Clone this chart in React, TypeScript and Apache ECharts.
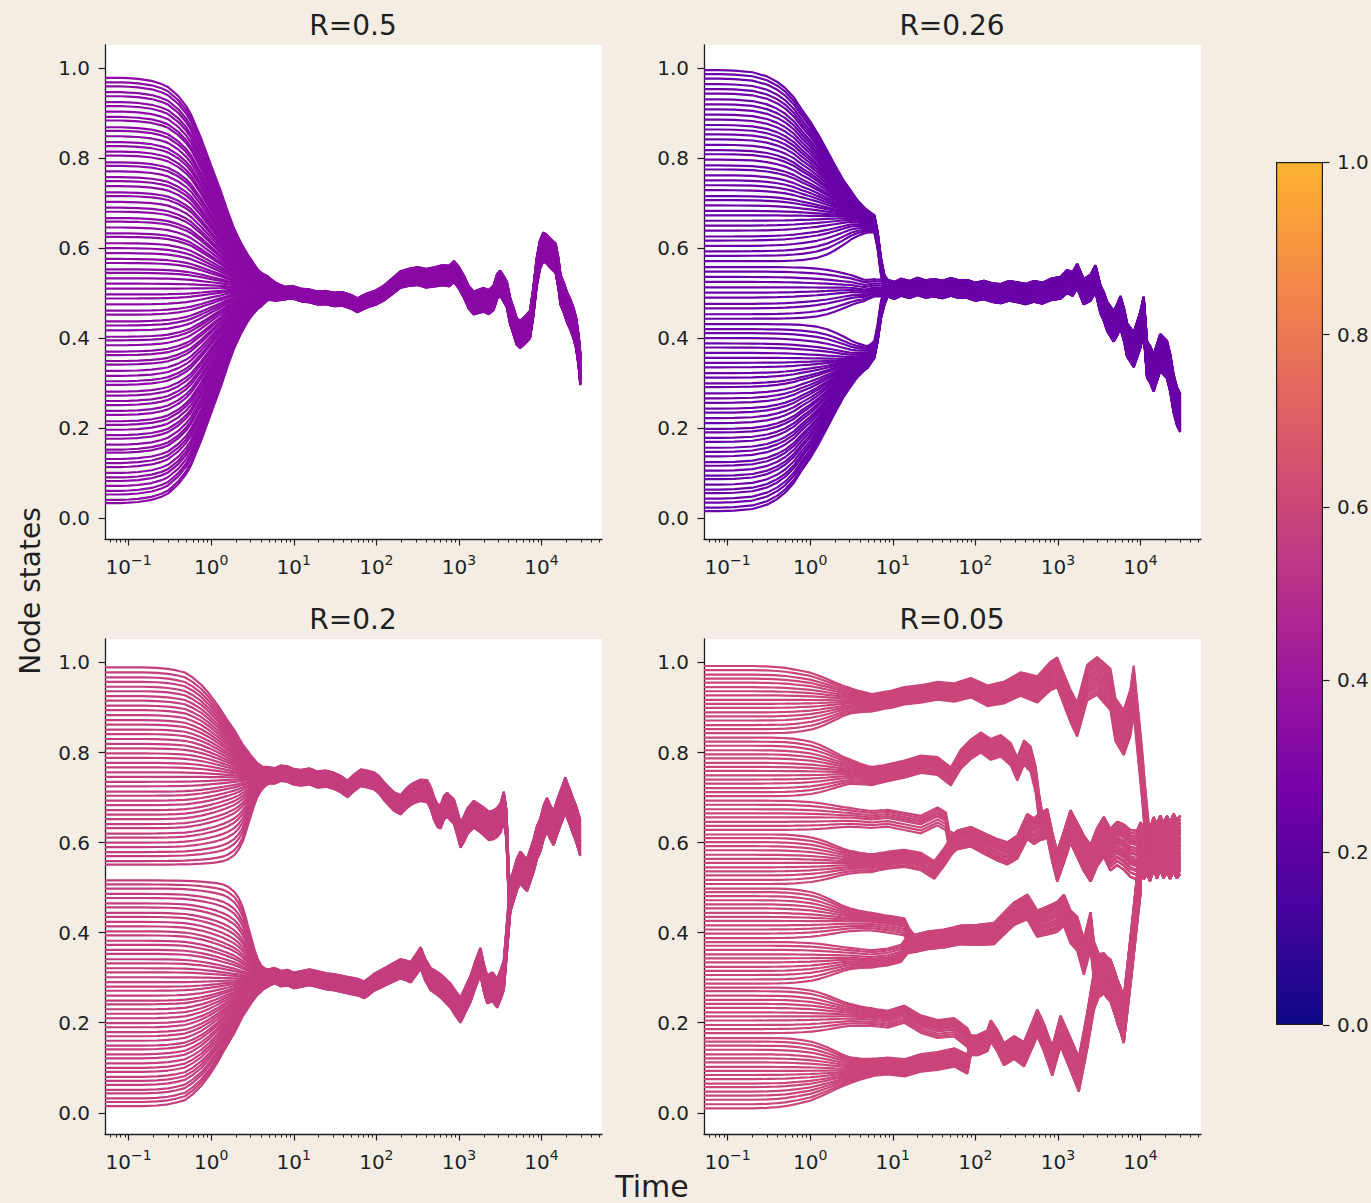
import React, { useEffect, useRef } from "react";
import * as echarts from "echarts";

type Pt = [number, number];

const FONT = '"DejaVu Sans", "Liberation Sans", sans-serif';
const INK = "#1f1f1f";
const PAGE_BG = "#f3ede4";

// ---- shared axes -------------------------------------------------------
const timeMin = 0.0518;
const timeMax = 53950;
const majorTimeExponents = [-1, 0, 1, 2, 3, 4];
const minorTimes = [
  0.06, 0.07, 0.08, 0.09,
  0.2, 0.3, 0.4, 0.5, 0.6, 0.7, 0.8, 0.9,
  2, 3, 4, 5, 6, 7, 8, 9,
  20, 30, 40, 50, 60, 70, 80, 90,
  200, 300, 400, 500, 600, 700, 800, 900,
  2000, 3000, 4000, 5000, 6000, 7000, 8000, 9000,
  20000, 30000, 40000, 50000,
];
const stateMin = -0.047;
const stateMax = 1.052;
const stateTicks = [0, 0.2, 0.4, 0.6, 0.8, 1.0];

const panelTitles = ["R=0.5", "R=0.26", "R=0.2", "R=0.05"];
const panelColors = ["#8b0aa5", "#6a00a8", "#c43e7f", "#ca457a"];

// ---- R = 0.5 : one consensus group --------------------------------------
const r05Starts = [
  0.033, 0.04, 0.052, 0.06, 0.071, 0.082, 0.09, 0.1, 0.113, 0.122, 0.131, 0.145, 0.152, 0.163,
  0.176, 0.184, 0.196, 0.207, 0.215, 0.229, 0.238, 0.251, 0.26, 0.272, 0.281, 0.296, 0.304, 0.316,
  0.327, 0.341, 0.349, 0.362, 0.37, 0.384, 0.395, 0.403, 0.417, 0.428, 0.437, 0.452, 0.461, 0.475,
  0.488, 0.497, 0.51, 0.521, 0.533, 0.545, 0.553, 0.567, 0.576, 0.589, 0.6, 0.611, 0.625, 0.633,
  0.646, 0.659, 0.667, 0.681, 0.69, 0.703, 0.716, 0.724, 0.738, 0.749, 0.758, 0.771, 0.783, 0.791,
  0.806, 0.815, 0.827, 0.836, 0.849, 0.861, 0.869, 0.884, 0.892, 0.904, 0.916, 0.925, 0.938, 0.947,
  0.96, 0.969, 0.979,
];
const r05Cuts: number[] = [];
const r05Track: Pt[] = [
  [3.04, 0.512], [3.9, 0.508], [4.84, 0.511], [6.1, 0.503], [7.7, 0.5], [9.6, 0.502], [12.2, 0.496],
  [15.3, 0.494], [19.5, 0.489], [24.5, 0.49], [30.8, 0.486], [38.6, 0.487], [49, 0.481], [59, 0.473],
  [68, 0.479], [78, 0.484], [98, 0.49], [123, 0.5], [155, 0.515], [195, 0.53], [245, 0.535],
  [316, 0.538], [400, 0.533], [501, 0.536], [630, 0.54], [760, 0.538], [871, 0.548], [1000, 0.534],
  [1150, 0.514], [1320, 0.49], [1510, 0.478], [1740, 0.482], [2000, 0.485], [2290, 0.48],
  [2630, 0.49], [2900, 0.515], [3160, 0.522], [3460, 0.51], [3800, 0.497], [4170, 0.46],
  [4570, 0.438], [5000, 0.415], [5500, 0.408], [6300, 0.418], [7240, 0.43], [7950, 0.48],
  [8710, 0.545], [9550, 0.585], [10500, 0.603], [11500, 0.598], [12900, 0.588], [14800, 0.578],
  [16000, 0.545], [17000, 0.507], [18600, 0.49], [20400, 0.468], [22400, 0.452], [24500, 0.432],
  [26300, 0.41], [28200, 0.37], [29500, 0.33],
];
const r05Tracks: Pt[][] = [r05Track];
const r05Joins = [-1];
const r05Fade: Pt[] = [
  [0.0518, 1], [0.08, 1], [0.1, 0.998], [0.13, 0.995], [0.19, 0.985], [0.25, 0.97], [0.3, 0.955],
  [0.4, 0.91], [0.5, 0.86], [0.57, 0.82], [0.76, 0.7], [1, 0.57], [1.32, 0.44], [1.6, 0.34],
  [1.9, 0.26], [2.3, 0.19], [2.8, 0.13], [3.3, 0.09], [3.7, 0.065], [4.4, 0.04], [5, 0.025],
  [6.5, 0.01], [8, 0],
];
const r05Spread: Pt[] = [[3, 0.013], [100, 0.016], [1000, 0.024], [5000, 0.03], [30000, 0.035]];

// ---- R = 0.26 : three groups, two of them collapse into the middle one ---
const r026Starts = [
  0.015, 0.023, 0.034, 0.043, 0.055, 0.063, 0.074, 0.086, 0.094, 0.105, 0.116, 0.124, 0.137, 0.147,
  0.156, 0.169, 0.178, 0.19, 0.198, 0.211, 0.222, 0.234, 0.243, 0.256, 0.266, 0.277, 0.291, 0.299,
  0.312, 0.322, 0.335, 0.345, 0.356, 0.367, 0.379, 0.388, 0.4, 0.411, 0.42, 0.431, 0.443, 0.453,
  0.466, 0.476, 0.49, 0.501, 0.513, 0.525, 0.536, 0.548, 0.558, 0.571, 0.583, 0.593, 0.605, 0.617,
  0.626, 0.639, 0.65, 0.661, 0.673, 0.683, 0.695, 0.707, 0.716, 0.729, 0.74, 0.751, 0.762, 0.775,
  0.784, 0.797, 0.809, 0.818, 0.83, 0.842, 0.853, 0.864, 0.874, 0.886, 0.897, 0.909, 0.92, 0.931,
  0.944, 0.954, 0.965, 0.977, 0.987, 0.996,
];
const r026Cuts = [0.436, 0.565];
const r026Low: Pt[] = [[3.13, 0.352], [4.97, 0.359], [5.98, 0.374], [6.55, 0.411], [7.2, 0.463], [7.9, 0.492]];
const r026Mid: Pt[] = [
  [3.13, 0.511], [4.5, 0.507], [6, 0.512], [8.67, 0.511], [10.5, 0.506], [12.6, 0.513], [16, 0.508],
  [20, 0.515], [25, 0.509], [31.7, 0.512], [40, 0.508], [50.5, 0.514], [63, 0.509], [80, 0.509],
  [100, 0.503], [127, 0.507], [160, 0.501], [203, 0.499], [255, 0.505], [322, 0.502], [405, 0.498],
  [512, 0.504], [650, 0.5], [815, 0.508], [1075, 0.512], [1290, 0.526], [1500, 0.52], [1710, 0.538],
  [2050, 0.503], [2480, 0.512], [2850, 0.532], [3270, 0.486], [3600, 0.47], [3940, 0.448],
  [4730, 0.426], [5200, 0.44], [5700, 0.458], [6300, 0.43], [6870, 0.396], [8260, 0.374],
  [9950, 0.418], [10900, 0.452], [12000, 0.352], [13200, 0.34], [14400, 0.322], [17300, 0.368],
  [20900, 0.352], [22900, 0.322], [25100, 0.277], [27600, 0.248], [30300, 0.233],
];
const r026High: Pt[] = [[3.13, 0.67], [4.97, 0.659], [5.98, 0.655], [6.55, 0.618], [7.2, 0.559], [7.9, 0.522]];
const r026Tracks: Pt[][] = [r026Low, r026Mid, r026High];
const r026Joins = [1, -1, 1];
const r026Fade: Pt[] = [
  [0.0518, 1], [0.08, 1], [0.12, 0.997], [0.2, 0.985], [0.3, 0.955], [0.4, 0.915], [0.5, 0.87],
  [0.64, 0.8], [0.78, 0.72], [1, 0.63], [1.24, 0.54], [1.6, 0.42], [1.97, 0.32], [2.5, 0.21],
  [3.1, 0.13], [3.7, 0.075], [4.5, 0.035], [5.2, 0.015], [6, 0],
];
const r026Hold: Pt[] = [
  [0.0518, 1], [0.5, 1], [0.8, 0.985], [1.2, 0.93], [1.6, 0.84], [2, 0.72], [2.5, 0.58], [3, 0.45],
  [3.6, 0.31], [4.2, 0.2], [4.8, 0.11], [5.5, 0.05], [6.2, 0.02], [7, 0],
];
const r026Spread: Pt[] = [[3, 0.018], [100, 0.02], [1000, 0.024], [3000, 0.03], [10000, 0.04], [30000, 0.042]];

// ---- R = 0.2 : two groups that meet late ----------------------------------
const r02Starts = [
  0.015, 0.024, 0.032, 0.043, 0.051, 0.062, 0.071, 0.08, 0.091, 0.1, 0.11, 0.121, 0.13, 0.141,
  0.149, 0.16, 0.17, 0.179, 0.19, 0.199, 0.21, 0.22, 0.23, 0.241, 0.249, 0.26, 0.271, 0.28, 0.29,
  0.301, 0.312, 0.321, 0.332, 0.341, 0.353, 0.362, 0.373, 0.382, 0.394, 0.403, 0.414, 0.424, 0.435,
  0.444, 0.456, 0.465, 0.477, 0.486, 0.498, 0.507, 0.516, 0.551, 0.559, 0.57, 0.579, 0.59, 0.6,
  0.611, 0.62, 0.632, 0.641, 0.652, 0.662, 0.672, 0.683, 0.693, 0.704, 0.713, 0.725, 0.735, 0.746,
  0.756, 0.767, 0.777, 0.788, 0.798, 0.809, 0.819, 0.83, 0.841, 0.851, 0.862, 0.872, 0.883, 0.894,
  0.904, 0.915, 0.925, 0.936, 0.946, 0.957, 0.967, 0.978, 0.989,
];
const r02Cuts = [0.535];
const r02Low: Pt[] = [
  [4.02, 0.297], [4.9, 0.301], [5.82, 0.305], [7, 0.298], [8.43, 0.3], [10, 0.294], [12.2, 0.297],
  [15.5, 0.301], [19.4, 0.297], [24.5, 0.292], [30.9, 0.29], [39, 0.286], [49.1, 0.282], [60, 0.279],
  [71, 0.273], [82, 0.281], [94, 0.29], [115, 0.298], [136, 0.305], [165, 0.313], [197, 0.32],
  [230, 0.316], [260, 0.312], [300, 0.328], [344, 0.344], [390, 0.318], [454, 0.297], [520, 0.29],
  [600, 0.282], [690, 0.271], [792, 0.26], [910, 0.243], [1045, 0.228], [1200, 0.252], [1380, 0.275],
  [1600, 0.31], [1820, 0.336], [2000, 0.3], [2200, 0.274], [2540, 0.28], [2900, 0.266], [3200, 0.285],
  [3490, 0.305], [3830, 0.394], [4200, 0.483],
];
const r02High: Pt[] = [
  [4.02, 0.744], [4.9, 0.748], [5.82, 0.748], [7, 0.754], [8.43, 0.752], [10, 0.746], [12.2, 0.744],
  [15.5, 0.747], [19.4, 0.74], [24.5, 0.742], [30.9, 0.737], [37, 0.73], [44.8, 0.719], [54, 0.733],
  [64.8, 0.744], [78, 0.741], [94, 0.737], [108, 0.728], [124, 0.714], [143, 0.702], [164, 0.691],
  [197, 0.684], [228, 0.697], [260, 0.706], [300, 0.712], [344, 0.716], [414, 0.714], [460, 0.697],
  [499, 0.676], [550, 0.66], [600, 0.657], [660, 0.678], [722, 0.684], [790, 0.676], [868, 0.669],
  [950, 0.645], [1045, 0.617], [1150, 0.63], [1260, 0.647], [1380, 0.655], [1510, 0.663],
  [1750, 0.655], [2000, 0.647], [2300, 0.637], [2640, 0.64], [2900, 0.645], [3190, 0.655],
  [3490, 0.68], [3760, 0.64], [4010, 0.5],
];
const r02Merged: Pt[] = [
  [4200, 0.48], [4600, 0.505], [5050, 0.53], [5550, 0.545], [6100, 0.535], [6680, 0.528],
  [7350, 0.55], [8040, 0.572], [8800, 0.6], [9680, 0.617], [10600, 0.645], [11650, 0.662],
  [12800, 0.645], [14000, 0.632], [15400, 0.655], [16900, 0.676], [18100, 0.69], [19400, 0.706],
  [20800, 0.69], [22300, 0.676], [23900, 0.66], [25600, 0.647], [27400, 0.63], [29400, 0.61],
];
const r02Tracks: Pt[][] = [r02Low, r02High, r02Merged];
const r02Joins = [2, 2, -1];
const r02Fade: Pt[] = [
  [0.0518, 1], [0.15, 1], [0.22, 0.995], [0.3, 0.985], [0.38, 0.97], [0.48, 0.95], [0.6, 0.9],
  [0.76, 0.83], [0.95, 0.74], [1.2, 0.63], [1.5, 0.51], [1.9, 0.39], [2.4, 0.25], [3.04, 0.14],
  [3.6, 0.07], [4.2, 0.03], [5, 0.01], [6, 0],
];
const r02Hold: Pt[] = [
  [0.0518, 1], [1.1, 1], [1.4, 0.99], [1.6, 0.97], [1.9, 0.92], [2.15, 0.85], [2.4, 0.75],
  [2.6, 0.64], [2.8, 0.52], [3.05, 0.39], [3.3, 0.27], [3.6, 0.16], [4, 0.07], [4.5, 0.02], [5, 0],
];
const r02Spread: Pt[] = [[4, 0.017], [100, 0.019], [1000, 0.028], [4000, 0.034], [30000, 0.04]];

// ---- R = 0.05 : eight groups merging step by step --------------------------
const r005Starts = [
  0.01, 0.019, 0.029, 0.038, 0.047, 0.057, 0.065, 0.075, 0.084, 0.093, 0.102, 0.112, 0.121, 0.13,
  0.14, 0.149, 0.158, 0.166, 0.177, 0.186, 0.195, 0.205, 0.214, 0.223, 0.233, 0.242, 0.251, 0.26,
  0.27, 0.278, 0.287, 0.296, 0.306, 0.315, 0.324, 0.334, 0.343, 0.352, 0.362, 0.371, 0.379, 0.388,
  0.398, 0.407, 0.416, 0.426, 0.435, 0.444, 0.454, 0.463, 0.472, 0.481, 0.49, 0.498, 0.508, 0.517,
  0.527, 0.536, 0.545, 0.555, 0.564, 0.573, 0.583, 0.592, 0.601, 0.61, 0.618, 0.628, 0.637, 0.646,
  0.656, 0.665, 0.674, 0.684, 0.693, 0.703, 0.712, 0.721, 0.731, 0.74, 0.749, 0.759, 0.768, 0.777,
  0.787, 0.796, 0.805, 0.815, 0.824, 0.833, 0.843, 0.852, 0.861, 0.871, 0.88, 0.889, 0.899, 0.908,
  0.917, 0.927, 0.936, 0.945, 0.955, 0.964, 0.973, 0.983, 0.992,
];
const r005Cuts = [0.17, 0.28, 0.38, 0.5, 0.62, 0.7, 0.84];
const r005H: Pt[] = [[3, 0.095], [5.46, 0.1], [8.67, 0.104], [13.8, 0.1], [21.9, 0.111], [34.8, 0.115], [55.4, 0.123], [80, 0.108]];
const r005G: Pt[] = [[3, 0.215], [5.46, 0.212], [8.67, 0.208], [13.8, 0.219], [21.9, 0.197], [34.8, 0.186], [55.4, 0.19], [80, 0.167]];
const r005F: Pt[] = [[3, 0.345], [5.46, 0.342], [8.67, 0.346], [12.6, 0.354], [15.1, 0.373]];
const r005E: Pt[] = [[3, 0.425], [5.46, 0.424], [9.51, 0.418], [13.8, 0.413], [15.8, 0.39]];
const r005D: Pt[] = [[3, 0.555], [5.46, 0.554], [8.67, 0.561], [13.8, 0.565], [21.9, 0.558], [31.8, 0.539], [41.9, 0.568], [50.5, 0.591]];
const r005C: Pt[] = [[3, 0.655], [5.46, 0.651], [8.67, 0.654], [13.8, 0.647], [21.9, 0.64], [34.8, 0.658], [43.9, 0.647], [48.2, 0.606]];
const r005B: Pt[] = [
  [3, 0.755], [5.46, 0.747], [8.67, 0.755], [13.8, 0.763], [21.9, 0.774], [34.8, 0.77], [50.5, 0.747],
  [66.6, 0.785], [88.1, 0.807], [116, 0.822], [154, 0.807], [203, 0.815], [268, 0.796], [322, 0.763],
  [388, 0.8], [467, 0.785], [537, 0.74], [589, 0.681], [646, 0.636],
];
const r005A: Pt[] = [
  [3, 0.915], [5.46, 0.911], [9.51, 0.918], [13.8, 0.926], [21.9, 0.93], [34.8, 0.937], [55.4, 0.933],
  [88.1, 0.944], [140, 0.926], [222, 0.933], [353, 0.952], [562, 0.94], [815, 0.97], [980, 0.978],
  [1180, 0.94], [1420, 0.903], [1710, 0.873], [2260, 0.955], [2980, 0.97], [3590, 0.955], [4320, 0.94],
  [4960, 0.873], [6260, 0.844], [7530, 0.888], [8260, 0.94], [9060, 0.866], [10400, 0.755],
  [11400, 0.666], [12500, 0.59],
];
const r005GH: Pt[] = [
  [106, 0.15], [140, 0.16], [154, 0.182], [185, 0.16], [222, 0.13], [294, 0.145], [388, 0.13],
  [512, 0.182], [562, 0.2], [677, 0.167], [854, 0.115], [1075, 0.182], [1420, 0.13], [1790, 0.085],
  [2260, 0.182], [2720, 0.27], [3270, 0.31],
];
const r005EF: Pt[] = [
  [18.2, 0.376], [26.4, 0.383], [41.9, 0.387], [66.6, 0.395], [106, 0.395], [168, 0.398], [222, 0.42],
  [294, 0.442], [426, 0.457], [562, 0.42], [743, 0.427], [980, 0.435], [1180, 0.45], [1420, 0.413],
  [1710, 0.398], [2060, 0.346], [2480, 0.405], [2720, 0.339], [3270, 0.301],
];
const r005Centre: Pt[] = [
  [55.4, 0.6], [60.7, 0.606], [88.1, 0.613], [128, 0.598], [185, 0.584], [244, 0.576], [322, 0.59],
  [426, 0.636], [512, 0.625], [617, 0.636], [743, 0.643], [854, 0.59], [980, 0.547], [1180, 0.59],
  [1420, 0.636], [1710, 0.606], [2060, 0.576], [2480, 0.554], [2980, 0.59], [3590, 0.613],
  [4320, 0.584], [5200, 0.598], [6260, 0.59], [7530, 0.576], [9060, 0.572], [10000, 0.59],
  [11000, 0.575], [12000, 0.588], [13000, 0.572], [14400, 0.598], [15800, 0.58], [17300, 0.6],
  [19000, 0.582], [20900, 0.597], [22800, 0.582], [25100, 0.6], [27500, 0.585], [30300, 0.595],
];
const r005EFGH: Pt[] = [
  [3590, 0.31], [3940, 0.3], [4320, 0.294], [4960, 0.262], [5200, 0.249], [5700, 0.23], [6260, 0.205],
  [6870, 0.27], [7890, 0.368], [9060, 0.472], [9950, 0.539],
];
const r005Tracks: Pt[][] = [
  r005H, r005G, r005F, r005E, r005D, r005C, r005B, r005A, r005GH, r005EF, r005Centre, r005EFGH,
];
const r005Joins = [8, 8, 9, 9, 10, 10, 10, 10, 11, 11, -1, 10];
const r005Fade: Pt[] = [
  [0.0518, 1], [0.2, 1], [0.3, 0.985], [0.4, 0.96], [0.5, 0.93], [0.7, 0.85], [1, 0.75], [1.3, 0.62],
  [1.6, 0.51], [2, 0.38], [2.5, 0.26], [3.2, 0.15], [4, 0.08], [5, 0.03], [6, 0],
];
const r005Hold: Pt[] = [
  [0.0518, 1], [0.35, 1], [0.5, 0.99], [0.65, 0.96], [0.8, 0.92], [1.05, 0.85], [1.3, 0.75],
  [1.6, 0.62], [2, 0.46], [2.5, 0.3], [3, 0.2], [4, 0.1], [5, 0.05], [6.5, 0.02], [8, 0],
];
const r005Spread: Pt[] = [[3, 0.018], [50, 0.02], [300, 0.025], [1000, 0.033], [3000, 0.042], [10000, 0.055], [30000, 0.065]];

// ---- colour bar -------------------------------------------------------------
const colorbarStops: [number, string][] = [
  [0, "#0d0887"], [0.134, "#47039f"], [0.268, "#7301a8"], [0.401, "#9c179e"], [0.535, "#bd3786"],
  [0.669, "#d8576b"], [0.803, "#ed7953"], [0.937, "#fb9f3a"], [1, "#fcb431"],
];

// ---- layout -----------------------------------------------------------------
const panelBoxes = [
  { left: 105, top: 45, width: 497, height: 494 },
  { left: 704, top: 45, width: 497, height: 494 },
  { left: 105, top: 639, width: 497, height: 495 },
  { left: 704, top: 639, width: 497, height: 495 },
];
const colorbarBox = { left: 1276, top: 162, width: 47, height: 863 };

interface PanelData {
  starts: number[];
  cuts: number[];
  tracks: Pt[][];
  joins: number[];
  fade: Pt[];
  hold: Pt[];
  spread: Pt[];
}

const panelData: PanelData[] = [
  { starts: r05Starts, cuts: r05Cuts, tracks: r05Tracks, joins: r05Joins, fade: r05Fade, hold: r05Fade, spread: r05Spread },
  { starts: r026Starts, cuts: r026Cuts, tracks: r026Tracks, joins: r026Joins, fade: r026Fade, hold: r026Hold, spread: r026Spread },
  { starts: r02Starts, cuts: r02Cuts, tracks: r02Tracks, joins: r02Joins, fade: r02Fade, hold: r02Hold, spread: r02Spread },
  { starts: r005Starts, cuts: r005Cuts, tracks: r005Tracks, joins: r005Joins, fade: r005Fade, hold: r005Hold, spread: r005Spread },
];

// piecewise-linear lookup in log(time)
function lookup(pts: Pt[], t: number): number {
  const n = pts.length;
  if (t <= pts[0][0]) return pts[0][1];
  if (t >= pts[n - 1][0]) return pts[n - 1][1];
  const lt = Math.log10(t);
  for (let i = 1; i < n; i++) {
    if (t <= pts[i][0]) {
      const a = Math.log10(pts[i - 1][0]);
      const b = Math.log10(pts[i][0]);
      const r = b > a ? (lt - a) / (b - a) : 1;
      return pts[i - 1][1] + (pts[i][1] - pts[i - 1][1]) * r;
    }
  }
  return pts[n - 1][1];
}

// Each node relaxes from its start value onto its group's track, then follows
// the track (and whatever track that group merges into).
function nodeTrajectories(d: PanelData): Pt[][] {
  const { starts, cuts, tracks, joins, fade, hold, spread } = d;
  const groupOf = (v: number) => cuts.filter((c) => v > c).length;
  return starts.map((v0) => {
    const k = groupOf(v0);
    const chain = [k];
    while (joins[chain[chain.length - 1]] >= 0) chain.push(joins[chain[chain.length - 1]]);
    const finalTrack = tracks[chain[chain.length - 1]];
    const tEnd = finalTrack[finalTrack.length - 1][0];
    const tSet = new Set<number>([timeMin]);
    fade.forEach((p) => tSet.add(p[0]));
    hold.forEach((p) => tSet.add(p[0]));
    chain.forEach((i) => tracks[i].forEach((p) => tSet.add(p[0])));
    const times = Array.from(tSet)
      .filter((t) => t >= timeMin && t <= tEnd)
      .sort((a, b) => a - b);

    const c0 = tracks[k][0][1];
    const lo = k > 0 ? cuts[k - 1] : null;
    const hi = k < cuts.length ? cuts[k] : null;
    let w = 0;
    if (v0 >= c0 && hi !== null) w = (v0 - c0) / (hi - c0);
    if (v0 < c0 && lo !== null) w = (c0 - v0) / (c0 - lo);
    w = Math.min(1, Math.max(0, w));
    const members = starts.filter((s) => groupOf(s) === k);
    const top = Math.max(...members);
    const bottom = Math.min(...members);
    const off =
      v0 >= c0 ? (top > c0 ? (v0 - c0) / (top - c0) : 0) : c0 > bottom ? (v0 - c0) / (c0 - bottom) : 0;

    const centre = (t: number) => {
      for (const i of chain) {
        const tr = tracks[i];
        if (t <= tr[tr.length - 1][0]) return lookup(tr, t);
      }
      return lookup(finalTrack, t);
    };

    return times.map((t): Pt => {
      const c = centre(t);
      const f = (1 - w) * lookup(fade, t) + w * lookup(hold, t);
      const hw = lookup(spread, t);
      return [t, c + (v0 - c) * f + (1 - f) * off * hw];
    });
  });
}

const supText = (e: number) => (e < 0 ? "\u2212" + Math.abs(e) : String(e));

function buildOption() {
  const grids: any[] = [];
  const xAxes: any[] = [];
  const yAxes: any[] = [];
  const series: any[] = [];
  const lx = Math.log10(timeMin);
  const hx = Math.log10(timeMax);

  panelData.forEach((d, i) => {
    grids.push({
      ...panelBoxes[i],
      show: true,
      backgroundColor: "#ffffff",
      borderWidth: 0,
      containLabel: false,
      outerBoundsMode: "none",
    });
    // time axis used by the series
    xAxes.push({
      type: "log",
      logBase: 10,
      gridIndex: i,
      min: timeMin,
      max: timeMax,
      position: "bottom",
      axisLine: { show: true, onZero: false, lineStyle: { color: INK, width: 1.3 } },
      axisTick: { show: false },
      axisLabel: { show: false },
      splitLine: { show: false },
      minorTick: { show: false },
      minorSplitLine: { show: false },
    });
    // decade ticks and labels
    xAxes.push({
      type: "value",
      gridIndex: i,
      min: lx,
      max: hx,
      position: "bottom",
      axisLine: { show: false, onZero: false },
      axisTick: { show: true, customValues: majorTimeExponents, length: 6.5, lineStyle: { color: INK, width: 1.2 } },
      axisLabel: {
        show: true,
        customValues: majorTimeExponents,
        margin: 14,
        formatter: (v: number) => `{b|10}{s|${supText(Math.round(v))}}`,
        rich: {
          b: { fontSize: 20, fontFamily: FONT, color: INK, lineHeight: 24, verticalAlign: "bottom" },
          s: { fontSize: 14, fontFamily: FONT, color: INK, lineHeight: 14, verticalAlign: "top" },
        },
      },
      splitLine: { show: false },
    });
    // minor ticks between decades
    xAxes.push({
      type: "value",
      gridIndex: i,
      min: lx,
      max: hx,
      position: "bottom",
      axisLine: { show: false, onZero: false },
      axisTick: { show: true, customValues: minorTimes.map((t) => Math.log10(t)), length: 3.5, lineStyle: { color: INK, width: 1 } },
      axisLabel: { show: false },
      splitLine: { show: false },
    });
    yAxes.push({
      type: "value",
      gridIndex: i,
      min: stateMin,
      max: stateMax,
      position: "left",
      axisLine: { show: true, onZero: false, lineStyle: { color: INK, width: 1.3 } },
      axisTick: { show: true, customValues: stateTicks, length: 6.5, lineStyle: { color: INK, width: 1.2 } },
      axisLabel: {
        show: true,
        customValues: stateTicks,
        margin: 15,
        formatter: (v: number) => v.toFixed(1),
        fontSize: 20,
        fontFamily: FONT,
        color: INK,
      },
      splitLine: { show: false },
    });
    nodeTrajectories(d).forEach((path) => {
      series.push({
        type: "line",
        xAxisIndex: i * 3,
        yAxisIndex: i,
        data: path,
        showSymbol: false,
        symbol: "none",
        silent: true,
        lineStyle: { width: 2.2, color: panelColors[i] },
        emphasis: { disabled: true },
        z: 2,
      });
    });
  });

  // colour bar
  grids.push({ ...colorbarBox, show: false, containLabel: false, outerBoundsMode: "none" });
  xAxes.push({ type: "category", gridIndex: 4, data: [""], show: false });
  yAxes.push({
    type: "value",
    gridIndex: 4,
    min: 0,
    max: 1,
    interval: 0.2,
    position: "right",
    axisLine: { show: false },
    axisTick: { show: true, length: 6.5, lineStyle: { color: INK, width: 1.2 } },
    axisLabel: { margin: 14, fontSize: 20, fontFamily: FONT, color: INK, formatter: (v: number) => v.toFixed(1) },
    splitLine: { show: false },
  });
  series.push({
    type: "bar",
    xAxisIndex: 12,
    yAxisIndex: 4,
    data: [1],
    barWidth: "100%",
    silent: true,
    itemStyle: {
      color: new echarts.graphic.LinearGradient(
        0, 1, 0, 0,
        colorbarStops.map(([offset, color]) => ({ offset, color }))
      ),
      borderColor: INK,
      borderWidth: 1.2,
    },
  });

  const titleText = (text: string, x: number, y: number) => ({
    type: "text",
    x,
    y,
    silent: true,
    style: { text, fill: INK, fontSize: 28, fontFamily: FONT, align: "center", verticalAlign: "middle" },
  });

  return {
    animation: false,
    backgroundColor: PAGE_BG,
    textStyle: { fontFamily: FONT },
    grid: grids,
    xAxis: xAxes,
    yAxis: yAxes,
    series,
    graphic: [
      titleText(panelTitles[0], 353, 25),
      titleText(panelTitles[1], 952, 25),
      titleText(panelTitles[2], 353, 619),
      titleText(panelTitles[3], 952, 619),
      {
        type: "text",
        x: 30,
        y: 591,
        rotation: Math.PI / 2,
        silent: true,
        style: { text: "Node states", fill: INK, fontSize: 28, fontFamily: FONT, align: "center", verticalAlign: "middle" },
      },
      {
        type: "text",
        x: 652,
        y: 1186,
        silent: true,
        style: { text: "Time", fill: INK, fontSize: 30, fontFamily: FONT, align: "center", verticalAlign: "middle" },
      },
    ],
  };
}

export default function App() {
  const ref = useRef<HTMLDivElement>(null);
  useEffect(() => {
    if (!ref.current) return;
    const chart = echarts.init(ref.current, undefined, { renderer: "svg" });
    chart.setOption(buildOption() as any);
    return () => chart.dispose();
  }, []);
  return (
    <div
      ref={ref}
      style={{ position: "absolute", left: 0, top: 0, width: 1371, height: 1203, background: PAGE_BG }}
    />
  );
}
